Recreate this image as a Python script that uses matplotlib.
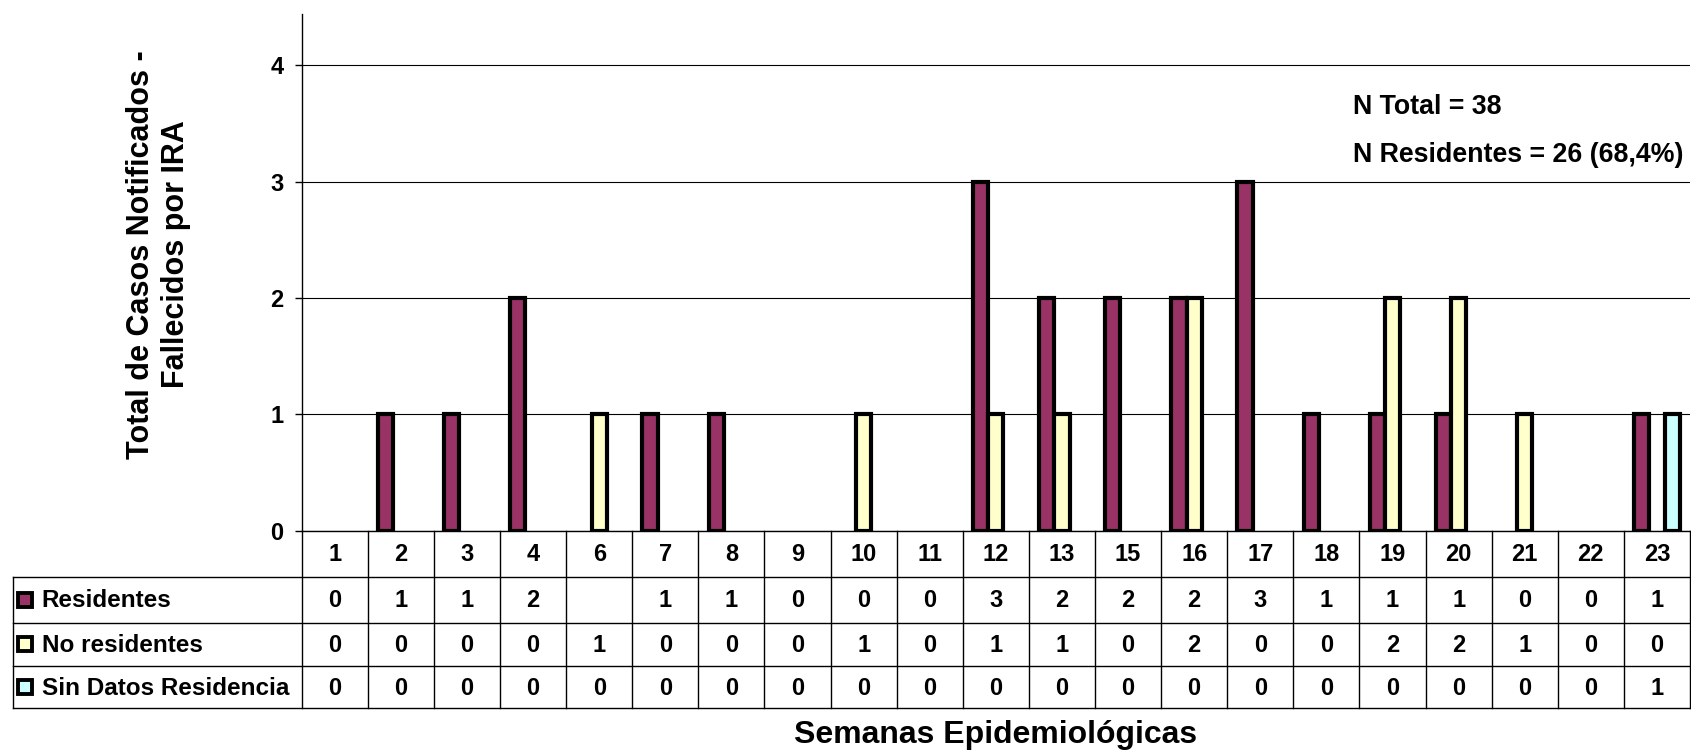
import numpy as np
import matplotlib
matplotlib.use("Agg")
import matplotlib.pyplot as plt
from matplotlib.patches import Rectangle

plt.rcParams['font.family'] = ['Liberation Sans', 'DejaVu Sans']
plt.rcParams['font.weight'] = 'bold'

semanas = ['1', '2', '3', '4', '6', '7', '8', '9', '10', '11', '12',
           '13', '15', '16', '17', '18', '19', '20', '21', '22', '23']
residentes = [0, 1, 1, 2, None, 1, 1, 0, 0, 0, 3, 2, 2, 2, 3, 1, 1, 1, 0, 0, 1]
no_residentes = [0, 0, 0, 0, 1, 0, 0, 0, 1, 0, 1, 1, 0, 2, 0, 0, 2, 2, 1, 0, 0]
sin_datos = [0, 0, 0, 0, 0, 0, 0, 0, 0, 0, 0, 0, 0, 0, 0, 0, 0, 0, 0, 0, 1]

series_nombres = ['Residentes', 'No residentes', 'Sin Datos Residencia']
series_colores = ['#993366', '#FFFFCC', '#CCFFFF']

W, H = 1691, 752
AX_L, AX_R, AX_T, AX_B = 301.7, 1690, 14, 530.7
TAB_L = 12.7
ROW_Y = [AX_B, 576.7, 622.7, 666.0, 708.3]

fig = plt.figure(figsize=(W / 100, H / 100), dpi=100)
ax = fig.add_axes([AX_L / W, 1 - AX_B / H, (AX_R - AX_L) / W, (AX_B - AX_T) / H])

series = [residentes, no_residentes, sin_datos]
x = np.arange(len(semanas))
bw = 0.23
for i, (vals, col) in enumerate(zip(series, series_colores)):
    h = [np.nan if v is None or v == 0 else v for v in vals]
    ax.bar(x + (i - 1) * bw, h, width=bw, color=col, edgecolor='black',
           linewidth=3, zorder=3)

ax.set_xlim(-0.5, len(semanas) - 0.5)
ax.set_ylim(0, 4.44)
ax.set_yticks([0, 1, 2, 3, 4])
ax.set_xticks([])
ax.tick_params(axis='y', length=5, width=1, pad=8, labelsize=17)
ax.yaxis.grid(True, color='black', linewidth=0.8)
ax.set_axisbelow(True)
for s in ['top', 'right']:
    ax.spines[s].set_visible(False)
ax.spines['left'].set_linewidth(1)
ax.spines['bottom'].set_linewidth(1)

# tabla de datos bajo el grafico (coordenadas en pixeles)
tab = fig.add_axes([0, 0, 1, 1])
tab.set_xlim(0, W)
tab.set_ylim(H, 0)
tab.axis('off')
tab.patch.set_alpha(0)

col_w = (AX_R - AX_L) / len(semanas)
lw = 1
for j in range(len(semanas) + 1):
    xx = AX_L + j * col_w
    tab.plot([xx, xx], [AX_B, ROW_Y[-1]], color='black', lw=lw)
tab.plot([TAB_L, TAB_L], [ROW_Y[1], ROW_Y[-1]], color='black', lw=lw)
for yy in ROW_Y[1:]:
    tab.plot([TAB_L, AX_R], [yy, yy], color='black', lw=lw)

for j, sem in enumerate(semanas):
    cx = AX_L + (j + 0.5) * col_w
    tab.text(cx, (ROW_Y[0] + ROW_Y[1]) / 2 + 1, sem, ha='center', va='center', fontsize=17)
    for r, vals in enumerate(series):
        v = vals[j]
        tab.text(cx, (ROW_Y[r + 1] + ROW_Y[r + 2]) / 2 + 1, '' if v is None else str(v),
                 ha='center', va='center', fontsize=17)

for r, (nombre, col) in enumerate(zip(series_nombres, series_colores)):
    cy = (ROW_Y[r + 1] + ROW_Y[r + 2]) / 2
    tab.add_patch(Rectangle((18, cy - 7), 14, 14, facecolor=col, edgecolor='black', lw=2.8))
    tab.text(41.7, cy + 1, nombre, ha='left', va='center', fontsize=17.5)

fig.text(158.5 / W, 1 - 254.5 / H, 'Total de Casos Notificados -\nFallecidos por IRA',
         rotation=90, ha='center', va='center', multialignment='center', fontsize=22)
fig.text((AX_L + AX_R) / 2 / W, 1 - 743 / H, 'Semanas Epidemiológicas',
         ha='center', va='baseline', fontsize=23)
fig.text(1353 / W, 1 - 114 / H, 'N Total = 38', ha='left', va='baseline', fontsize=19.3)
fig.text(1353 / W, 1 - 161.7 / H, 'N Residentes = 26 (68,4%)', ha='left', va='baseline', fontsize=19.3)

fig.savefig('out.png', dpi=100)
